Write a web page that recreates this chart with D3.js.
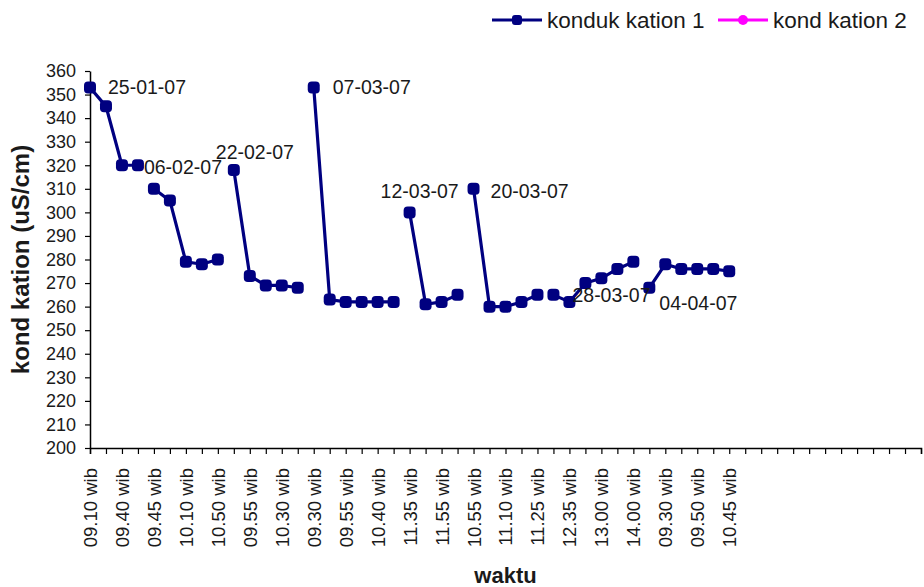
<!DOCTYPE html>
<html>
<head>
<meta charset="utf-8">
<script src="https://cdn.jsdelivr.net/npm/d3@7/dist/d3.min.js"></script>
<style>
  html, body { margin: 0; padding: 0; background: #ffffff; }
  svg { display: block; font-family: "Liberation Sans", Arial, sans-serif; }
</style>
</head>
<body>
<svg id="chart" width="924" height="587"></svg>
<script>
// ---- data ----
const categoryCount = 53;
const timeLabels = ["09.10 wib","09.40 wib","09.45 wib","10.10 wib","10.50 wib","09.55 wib","10.30 wib",
  "09.30 wib","09.55 wib","10.40 wib","11.35 wib","11.55 wib","10.55 wib","11.10 wib","11.25 wib",
  "12.35 wib","13.00 wib","14.00 wib","09.30 wib","09.50 wib","10.45 wib"];
const kondukKation1 = [353,345,320,320, 310,305,279,278,280, 318,273,269,269,268,
  353,263,262,262,262,262, 300,261,262,265, 310,260,260,262,265,
  265,262,270,272,276,279, 268,278,276,276,276,275];
const kondKation2 = [];
const groupStarts = [0,4,9,14,20,24,29,35];
const groupDates = ["25-01-07","06-02-07","22-02-07","07-03-07","12-03-07","20-03-07","28-03-07","04-04-07"];
const yTicks = [200,210,220,230,240,250,260,270,280,290,300,310,320,330,340,350,360];
const seriesNames = ["konduk kation 1","kond kation 2"];

(function () {
// ---- layout ----
const svg = d3.select("#chart");
const mLeft = 90, mRight = 921, mTop = 71, mBottom = 448;
const navy = "#000080", magenta = "#ff00ff", textCol = "#1a1a1a";

const x = d3.scalePoint().domain(d3.range(categoryCount)).range([mLeft, mRight]);
const y = d3.scaleLinear().domain([200, 360]).range([mBottom, mTop]);

// x axis
const xAxis = d3.axisBottom(x).tickSizeOuter(0).tickSize(6)
  .tickFormat(i => (i % 2 === 0 && i / 2 < timeLabels.length) ? timeLabels[i / 2] : "");
const gx = svg.append("g").attr("transform", `translate(0,${mBottom})`).call(xAxis);
gx.select(".domain").attr("stroke", "#000").attr("stroke-width", 1.5);
gx.selectAll(".tick line").attr("stroke", "#000").attr("stroke-width", 1.2);
gx.selectAll(".tick text")
  .attr("transform", "rotate(-90)")
  .attr("text-anchor", "end")
  .attr("x", -20).attr("y", 0).attr("dy", "0.35em")
  .attr("font-size", 18.5).attr("fill", textCol)
  .attr("font-family", "Liberation Sans, Arial, sans-serif");

// y axis
const yAxis = d3.axisLeft(y).tickValues(yTicks).tickSize(5).tickSizeOuter(0).tickPadding(9);
const gy = svg.append("g").attr("transform", `translate(${mLeft},0)`).call(yAxis);
gy.select(".domain").attr("stroke", "#000").attr("stroke-width", 1.5);
gy.selectAll(".tick line").attr("stroke", "#000").attr("stroke-width", 1.2);
gy.selectAll(".tick text").attr("font-size", 18).attr("fill", textCol)
  .attr("font-family", "Liberation Sans, Arial, sans-serif");

// axis titles
svg.append("text")
  .attr("transform", `translate(21,${(mTop + mBottom) / 2}) rotate(-90)`)
  .attr("text-anchor", "middle").attr("dy", "0.35em")
  .attr("font-size", 24).attr("font-weight", "bold").attr("fill", textCol)
  .text("kond kation (uS/cm)");
svg.append("text")
  .attr("x", (mLeft + mRight) / 2).attr("y", 583)
  .attr("text-anchor", "middle")
  .attr("font-size", 22).attr("font-weight", "bold").attr("fill", textCol)
  .text("waktu");

// series 1 lines by group
const groups = groupStarts.map((s, k) => {
  const e = k + 1 < groupStarts.length ? groupStarts[k + 1] : kondukKation1.length;
  return d3.range(s, e).map(i => ({ i, v: kondukKation1[i] }));
});
const line = d3.line().x(d => x(d.i)).y(d => y(d.v));
svg.append("g").selectAll("path").data(groups).join("path")
  .attr("d", line).attr("fill", "none").attr("stroke", navy).attr("stroke-width", 3.2);

const markerSize = 12;
svg.append("g").selectAll("rect").data(kondukKation1.map((v, i) => ({ i, v }))).join("rect")
  .attr("x", d => x(d.i) - markerSize / 2).attr("y", d => y(d.v) - markerSize / 2)
  .attr("width", markerSize).attr("height", markerSize).attr("rx", 4)
  .attr("fill", navy);

// series 2 (no points)
svg.append("g").selectAll("circle").data(kondKation2.map((v, i) => ({ i, v }))).join("circle")
  .attr("cx", d => x(d.i)).attr("cy", d => y(d.v)).attr("r", 5).attr("fill", magenta);

// date annotations, anchored at each group's first point
const labelOffsets = [[18, 0], [-10, -22], [-18, -18], [19, 0], [-29, -21], [17, 2], [19, 0], [10, 15]];
svg.append("g").selectAll("text").data(groupDates).join("text")
  .attr("x", (d, k) => x(groupStarts[k]) + labelOffsets[k][0])
  .attr("y", (d, k) => y(kondukKation1[groupStarts[k]]) + labelOffsets[k][1])
  .attr("dy", "0.35em")
  .attr("font-size", 19.5).attr("fill", textCol)
  .text(d => d);

// legend
const legend = svg.append("g");
const legendItems = [
  { name: seriesNames[0], color: navy, x0: 492, shape: "rect" },
  { name: seriesNames[1], color: magenta, x0: 718, shape: "circle" }
];
legendItems.forEach(it => {
  const g = legend.append("g");
  g.append("line").attr("x1", it.x0).attr("x2", it.x0 + 50).attr("y1", 20).attr("y2", 20)
    .attr("stroke", it.color).attr("stroke-width", 3);
  if (it.shape === "rect") {
    g.append("rect").attr("x", it.x0 + 25 - 5).attr("y", 15).attr("width", 10).attr("height", 10)
      .attr("rx", 3).attr("fill", it.color);
  } else {
    g.append("circle").attr("cx", it.x0 + 25).attr("cy", 20).attr("r", 5).attr("fill", it.color);
  }
  g.append("text").attr("x", it.x0 + 55).attr("y", 20).attr("dy", "0.35em")
    .attr("font-size", 22.5).attr("fill", textCol).text(it.name);
});
})();
</script>
</body>
</html>
